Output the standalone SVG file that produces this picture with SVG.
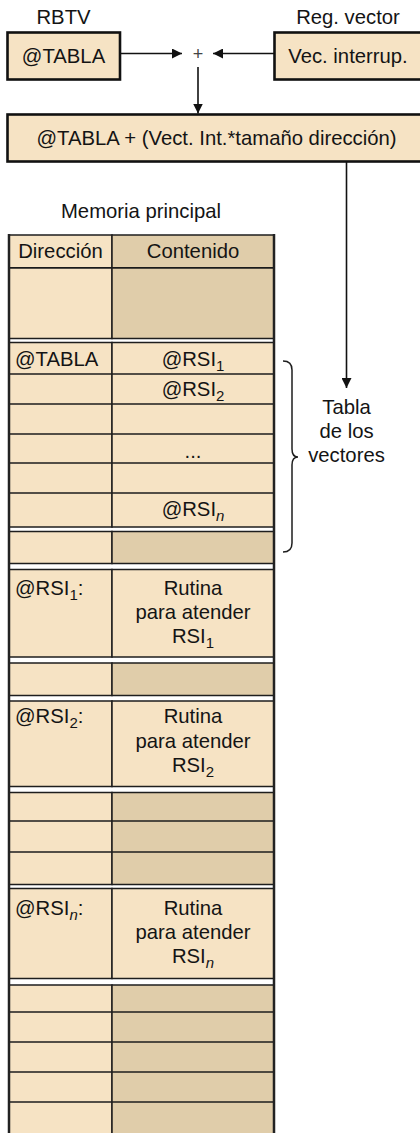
<svg xmlns="http://www.w3.org/2000/svg" width="420" height="1133" viewBox="0 0 420 1133">
<style>
.t{font-family:"Liberation Sans",Arial,sans-serif;font-size:20.3px;fill:#141414}
.m{text-anchor:middle}
.sub{font-size:15px}
.lt{fill:#F6E3C4;stroke:#1e1e1e;stroke-width:1.5}
.dk{fill:#E0CDAA;stroke:#1e1e1e;stroke-width:1.5}
.ln{stroke:#1e1e1e;stroke-width:1.5;fill:none}
.box{fill:#F6E3C4;stroke:#111;stroke-width:2.6}
.outer{stroke:#222;stroke-width:2.5;fill:none}
.conn{stroke:#111;stroke-width:1.6;fill:none}
</style>
<defs>
<marker id="ah" viewBox="0 0 10 10" refX="10" refY="5" markerWidth="10" markerHeight="10" markerUnits="userSpaceOnUse" orient="auto">
<path d="M0,0 L10,5 L0,10 Z" fill="#111"/>
</marker>
</defs>
<rect width="420" height="1133" fill="#ffffff"/>

<g id="rbtv">
<text class="t m" x="63.5" y="24">RBTV</text>
<rect class="box" x="7.5" y="32.5" width="112.5" height="47"/>
<text class="t m" x="63.5" y="62.5">@TABLA</text>
</g>

<g id="regvector">
<text class="t m" x="348" y="24">Reg. vector</text>
<rect class="box" x="274.5" y="32.5" width="150" height="47"/>
<text class="t m" x="348" y="62.5">Vec. interrup.</text>
</g>

<g id="plus">
<text x="198" y="60" style="font-family:'Liberation Sans',Arial,sans-serif;font-size:18px;fill:#444;text-anchor:middle">+</text>
</g>

<g id="sum">
<rect class="box" x="7.5" y="114.5" width="417" height="47"/>
<text class="t m" x="216.5" y="145">@TABLA + (Vect. Int.*tamaño dirección)</text>
</g>

<g id="connectors">
<line class="conn" x1="120" y1="53.5" x2="182" y2="53.5" marker-end="url(#ah)"/>
<line class="conn" x1="274.5" y1="53.5" x2="213" y2="53.5" marker-end="url(#ah)"/>
<line class="conn" x1="198" y1="67" x2="198" y2="113.5" marker-end="url(#ah)"/>
<line class="conn" x1="346.5" y1="161.5" x2="346.5" y2="388" marker-end="url(#ah)"/>
</g>

<g id="memoria">
<text class="t m" x="141" y="218">Memoria principal</text>

<g id="header">
<rect class="lt" x="9" y="235" width="103" height="33"/>
<rect class="dk" x="112" y="235" width="162" height="33"/>
<line x1="9" y1="268" x2="274" y2="268" stroke="#111" stroke-width="2.2"/>
<text class="t m" x="60.5" y="258">Dirección</text>
<text class="t m" x="193" y="258">Contenido</text>
</g>

<g id="blockA">
<rect class="lt" x="9" y="268" width="103" height="70.5"/>
<rect class="dk" x="112" y="268" width="162" height="70.5"/>
</g>

<g id="vectorTable">
<rect class="lt" x="9" y="342.5" width="103" height="184.5"/>
<rect class="lt" x="112" y="342.5" width="162" height="184.5"/>
<path class="ln" d="M9,374H274M9,404H274M9,434H274M9,463H274M9,493H274"/>
<text class="t" x="15" y="366">@TABLA</text>
<text class="t m" x="193" y="366">@RSI<tspan class="sub" dy="5">1</tspan></text>
<text class="t m" x="193" y="396">@RSI<tspan class="sub" dy="5">2</tspan></text>
<text class="t m" x="193" y="458">...</text>
<text class="t m" x="193" y="516">@RSI<tspan class="sub" dy="5" font-style="italic">n</tspan></text>
</g>

<g id="blockC">
<rect class="lt" x="9" y="531.5" width="103" height="32"/>
<rect class="dk" x="112" y="531.5" width="162" height="32"/>
</g>

<g id="rutina1">
<rect class="lt" x="9" y="569.5" width="103" height="87.5"/>
<rect class="lt" x="112" y="569.5" width="162" height="87.5"/>
<text class="t" x="15" y="595">@RSI<tspan class="sub" dy="5">1</tspan><tspan dy="-5">:</tspan></text>
<text class="t m" x="193" y="595">Rutina</text>
<text class="t m" x="193" y="619">para atender</text>
<text class="t m" x="193" y="643">RSI<tspan class="sub" dy="5">1</tspan></text>
</g>

<g id="blockE">
<rect class="lt" x="9" y="663" width="103" height="32.5"/>
<rect class="dk" x="112" y="663" width="162" height="32.5"/>
</g>

<g id="rutina2">
<rect class="lt" x="9" y="701" width="103" height="85.5"/>
<rect class="lt" x="112" y="701" width="162" height="85.5"/>
<text class="t" x="15" y="723">@RSI<tspan class="sub" dy="5">2</tspan><tspan dy="-5">:</tspan></text>
<text class="t m" x="193" y="723">Rutina</text>
<text class="t m" x="193" y="748">para atender</text>
<text class="t m" x="193" y="772">RSI<tspan class="sub" dy="5">2</tspan></text>
</g>

<g id="blockG">
<rect class="lt" x="9" y="792.5" width="103" height="92"/>
<rect class="dk" x="112" y="792.5" width="162" height="92"/>
<path class="ln" d="M9,821H274M9,852H274"/>
</g>

<g id="rutinaN">
<rect class="lt" x="9" y="888.5" width="103" height="90"/>
<rect class="lt" x="112" y="888.5" width="162" height="90"/>
<text class="t" x="15" y="915">@RSI<tspan class="sub" dy="5" font-style="italic">n</tspan><tspan dy="-5">:</tspan></text>
<text class="t m" x="193" y="915">Rutina</text>
<text class="t m" x="193" y="939">para atender</text>
<text class="t m" x="193" y="963">RSI<tspan class="sub" dy="5" font-style="italic">n</tspan></text>
</g>

<g id="blockI">
<rect class="lt" x="9" y="985" width="103" height="160"/>
<rect class="dk" x="112" y="985" width="162" height="160"/>
<path class="ln" d="M9,1012H274M9,1042H274M9,1072H274M9,1102H274"/>
</g>

<path class="outer" d="M9,234V1133M274,234V1133"/>
</g>

<g id="brace">
<path class="ln" d="M283,361 Q292,361 292,370 L292,449 Q292,457 298,457 Q292,457 292,465 L292,543 Q292,552 283,552"/>
<text class="t m" x="346.5" y="414">Tabla</text>
<text class="t m" x="346.5" y="438">de los</text>
<text class="t m" x="346.5" y="462">vectores</text>
</g>
</svg>
